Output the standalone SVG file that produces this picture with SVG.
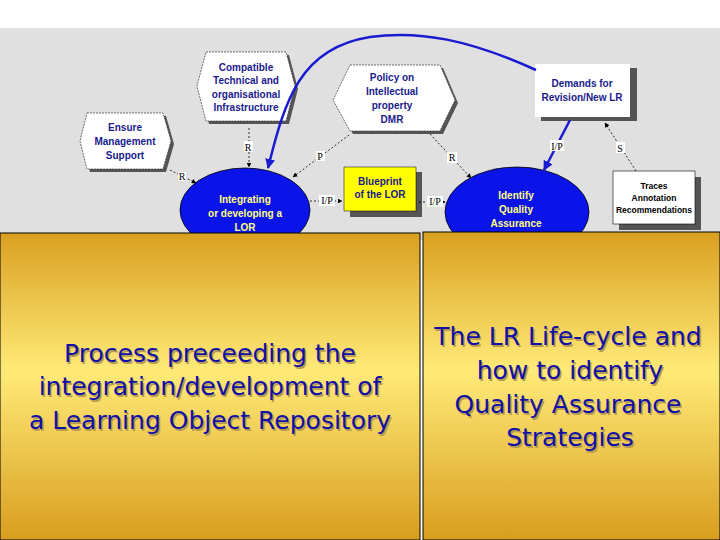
<svg xmlns="http://www.w3.org/2000/svg" width="720" height="540" viewBox="0 0 720 540">
<defs>
<linearGradient id="gold" x1="0" y1="0" x2="0" y2="1">
<stop offset="0" stop-color="#D9A020"/><stop offset="0.45" stop-color="#FFEA78"/><stop offset="1" stop-color="#D89E1E"/>
</linearGradient>
<marker id="ah" viewBox="0 0 10 10" refX="9" refY="5" markerWidth="6" markerHeight="6" orient="auto"><path d="M0,0 L10,5 L0,10 z" fill="#000"/></marker>
<marker id="bh" viewBox="0 0 10 10" refX="9" refY="5" markerWidth="4" markerHeight="4" orient="auto"><path d="M0,0 L10,5 L0,10 z" fill="#1a1ad0"/></marker>
</defs>
<style>
.hex{fill:#fff;stroke:#333;stroke-width:0.7;stroke-dasharray:2 1}
.sh{fill:#555}
.nt{font-family:"Liberation Sans",Arial,sans-serif;font-size:10px;font-weight:bold;fill:#1a1a8c;text-anchor:middle}
.wt{font-family:"Liberation Sans",Arial,sans-serif;font-size:10px;font-weight:bold;fill:#ffff80;text-anchor:middle}
.kt{font-family:"Liberation Sans",Arial,sans-serif;font-size:8.5px;font-weight:bold;fill:#000;text-anchor:middle}
.lab{font-family:"Liberation Serif",serif;font-size:10px;fill:#000;text-anchor:middle}
.dl{stroke:#000;stroke-width:0.8;stroke-dasharray:2 2;fill:none;marker-end:url(#ah)}
.big{font-family:"Comic Sans MS","DejaVu Sans",sans-serif;font-size:25px;fill:#1010a8;text-anchor:middle}
.bs{font-family:"Comic Sans MS","DejaVu Sans",sans-serif;font-size:25px;fill:#b89a50;text-anchor:middle}
</style>
<rect x="0" y="0" width="720" height="540" fill="#fff"/>
<rect x="0" y="28" width="720" height="212" fill="#e0e0e0"/>
<g id="ensure"><polygon points="87,113 163,113 171,141 163,169 87,169 80,141" class="sh" transform="translate(3,3)"/><polygon points="87,113 163,113 171,141 163,169 87,169 80,141" class="hex"/><text class="nt" x="125" y="131">Ensure</text><text class="nt" x="125" y="145">Management</text><text class="nt" x="125" y="159">Support</text></g>
<g id="compat"><polygon points="206,52 286,52 295,86 286,121 206,121 197,86" class="sh" transform="translate(3,3)"/><polygon points="206,52 286,52 295,86 286,121 206,121 197,86" class="hex"/><text class="nt" x="246" y="71">Compatible</text><text class="nt" x="246" y="84">Technical and</text><text class="nt" x="246" y="98">organisational</text><text class="nt" x="246" y="111">Infrastructure</text></g>
<g id="policy"><polygon points="350,65 440,65 455,100 440,131 350,131 333,100" class="sh" transform="translate(3,3)"/><polygon points="350,65 440,65 455,100 440,131 350,131 333,100" class="hex"/><text class="nt" x="392" y="81">Policy on</text><text class="nt" x="392" y="95">Intellectual</text><text class="nt" x="392" y="109">property</text><text class="nt" x="392" y="123">DMR</text></g>
<g id="demands"><rect x="538" y="65" width="96" height="53" class="sh" transform="translate(3,3)"/><rect x="535" y="64" width="95" height="53" fill="#fff"/><text class="nt" x="582" y="87">Demands for</text><text class="nt" x="582" y="101">Revision/New LR</text></g>
<g id="traces"><rect x="616" y="174" width="82" height="53" class="sh" transform="translate(3,3)"/><rect x="613" y="171" width="82" height="53" fill="#fff" stroke="#000" stroke-width="0.6"/><text class="kt" x="654" y="189">Traces</text><text class="kt" x="654" y="201">Annotation</text><text class="kt" x="654" y="213">Recommendations</text></g>
<g id="blueprint"><rect x="347" y="169" width="72" height="45" class="sh" transform="translate(3,3)"/><rect x="344" y="167" width="72" height="44" fill="#ffff00" stroke="#000" stroke-width="0.5"/><text class="nt" x="380" y="185">Blueprint</text><text class="nt" x="380" y="198">of the LOR</text></g>
<g id="integrating"><ellipse cx="245" cy="210" rx="65" ry="42" fill="#0a14e8" stroke="#000" stroke-width="0.8"/><text class="wt" x="245" y="203">Integrating</text><text class="wt" x="245" y="217">or developing a</text><text class="wt" x="245" y="231">LOR</text></g>
<g id="identify"><ellipse cx="517" cy="212" rx="72" ry="45" fill="#0a14e8" stroke="#000" stroke-width="0.8"/><text class="wt" x="516" y="199">Identify</text><text class="wt" x="516" y="213">Quality</text><text class="wt" x="516" y="227">Assurance</text></g>
<g id="connectors">
<path d="M170,170 L196,183" class="dl"/><rect x="178" y="172" width="8" height="9" fill="#fff"/><text class="lab" x="182" y="180">R</text>
<path d="M249,128 L249,167" class="dl"/><rect x="244" y="141" width="9" height="11" fill="#fff"/><text class="lab" x="248" y="151">R</text>
<path d="M349,135 L293,177" class="dl"/><rect x="316" y="151" width="9" height="10" fill="#fff"/><text class="lab" x="320" y="160">P</text>
<path d="M310,201 L342,201" class="dl"/><rect x="319" y="195" width="16" height="11" fill="#fff"/><text class="lab" x="327" y="204">I/P</text>
<path d="M419,202 L445,202" class="dl"/><rect x="427" y="196" width="16" height="11" fill="#fff"/><text class="lab" x="435" y="205">I/P</text>
<path d="M430,134 L471,178" class="dl"/><rect x="447" y="152" width="10" height="11" fill="#fff"/><text class="lab" x="452" y="161">R</text>
<path d="M636,171 L605,123" class="dl"/><rect x="616" y="142" width="9" height="11" fill="#fff"/><text class="lab" x="620" y="152">S</text>
<path d="M570,120 L544,170" stroke="#1a1ad0" stroke-width="2.5" fill="none" marker-end="url(#bh)"/><rect x="550" y="140" width="14" height="11" fill="#fff"/><text class="lab" x="557" y="150">I/P</text>
<path d="M536,70 C470,40 420,30 370,37 C300,48 285,100 268,168" stroke="#1a1ad0" stroke-width="2.5" fill="none" marker-end="url(#bh)"/>
</g>
<rect x="0" y="233" width="420" height="307" fill="url(#gold)" stroke="#000" stroke-width="1"/>
<rect x="423" y="232" width="297" height="308" fill="url(#gold)" stroke="#000" stroke-width="1"/>
<g transform="translate(1.5,1.5)">
<text class="bs" x="210" y="362">Process preceeding the</text>
<text class="bs" x="210" y="395">integration/development of</text>
<text class="bs" x="210" y="429">a Learning Object Repository</text>
<text class="bs" x="568" y="345">The LR Life-cycle and</text>
<text class="bs" x="570" y="379">how to identify</text>
<text class="bs" x="568" y="413">Quality Assurance</text>
<text class="bs" x="570" y="446">Strategies</text>
</g>
<text class="big" x="210" y="362">Process preceeding the</text>
<text class="big" x="210" y="395">integration/development of</text>
<text class="big" x="210" y="429">a Learning Object Repository</text>
<text class="big" x="568" y="345">The LR Life-cycle and</text>
<text class="big" x="570" y="379">how to identify</text>
<text class="big" x="568" y="413">Quality Assurance</text>
<text class="big" x="570" y="446">Strategies</text>
</svg>
